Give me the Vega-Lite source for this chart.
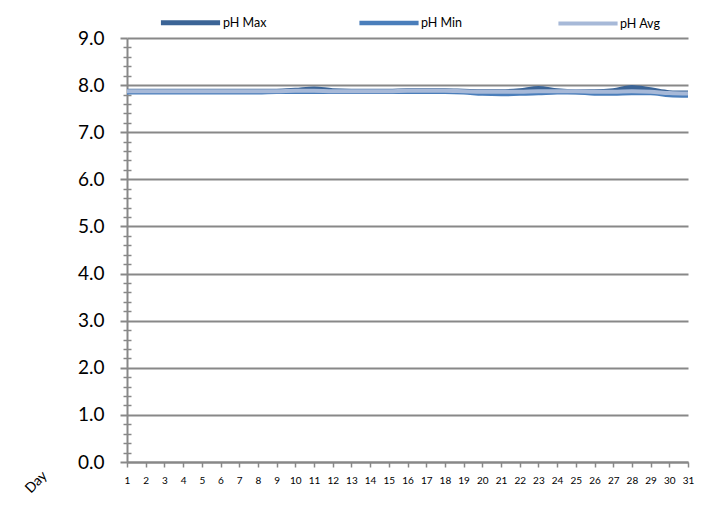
{
  "$schema": "https://vega.github.io/schema/vega-lite/v6.json",
  "width": 561,
  "height": 424,
  "autosize": {"type": "none"},
  "padding": {"left": 127, "top": 38, "right": 34, "bottom": 46},
  "background": "white",
  "config": {"font": "Lato", "view": {"stroke": null}},
  "data": {"values": [
    {"day": 1, "pH Max": 7.87, "pH Min": 7.85, "pH Avg": 7.87},
    {"day": 2, "pH Max": 7.87, "pH Min": 7.85, "pH Avg": 7.87},
    {"day": 3, "pH Max": 7.87, "pH Min": 7.85, "pH Avg": 7.87},
    {"day": 4, "pH Max": 7.87, "pH Min": 7.85, "pH Avg": 7.87},
    {"day": 5, "pH Max": 7.87, "pH Min": 7.85, "pH Avg": 7.87},
    {"day": 6, "pH Max": 7.87, "pH Min": 7.85, "pH Avg": 7.87},
    {"day": 7, "pH Max": 7.87, "pH Min": 7.85, "pH Avg": 7.87},
    {"day": 8, "pH Max": 7.87, "pH Min": 7.85, "pH Avg": 7.87},
    {"day": 9, "pH Max": 7.87, "pH Min": 7.86, "pH Avg": 7.87},
    {"day": 10, "pH Max": 7.89, "pH Min": 7.86, "pH Avg": 7.88},
    {"day": 11, "pH Max": 7.92, "pH Min": 7.86, "pH Avg": 7.88},
    {"day": 12, "pH Max": 7.88, "pH Min": 7.86, "pH Avg": 7.87},
    {"day": 13, "pH Max": 7.87, "pH Min": 7.86, "pH Avg": 7.87},
    {"day": 14, "pH Max": 7.87, "pH Min": 7.86, "pH Avg": 7.87},
    {"day": 15, "pH Max": 7.87, "pH Min": 7.86, "pH Avg": 7.87},
    {"day": 16, "pH Max": 7.88, "pH Min": 7.86, "pH Avg": 7.88},
    {"day": 17, "pH Max": 7.88, "pH Min": 7.86, "pH Avg": 7.88},
    {"day": 18, "pH Max": 7.88, "pH Min": 7.86, "pH Avg": 7.88},
    {"day": 19, "pH Max": 7.87, "pH Min": 7.85, "pH Avg": 7.87},
    {"day": 20, "pH Max": 7.86, "pH Min": 7.82, "pH Avg": 7.86},
    {"day": 21, "pH Max": 7.86, "pH Min": 7.81, "pH Avg": 7.86},
    {"day": 22, "pH Max": 7.88, "pH Min": 7.82, "pH Avg": 7.86},
    {"day": 23, "pH Max": 7.93, "pH Min": 7.83, "pH Avg": 7.87},
    {"day": 24, "pH Max": 7.88, "pH Min": 7.85, "pH Avg": 7.87},
    {"day": 25, "pH Max": 7.86, "pH Min": 7.85, "pH Avg": 7.87},
    {"day": 26, "pH Max": 7.86, "pH Min": 7.82, "pH Avg": 7.86},
    {"day": 27, "pH Max": 7.88, "pH Min": 7.82, "pH Avg": 7.86},
    {"day": 28, "pH Max": 7.95, "pH Min": 7.83, "pH Avg": 7.87},
    {"day": 29, "pH Max": 7.9, "pH Min": 7.83, "pH Avg": 7.86},
    {"day": 30, "pH Max": 7.84, "pH Min": 7.79, "pH Avg": 7.83},
    {"day": 31, "pH Max": 7.83, "pH Min": 7.78, "pH Avg": 7.82}
  ]},
  "transform": [
    {"fold": ["pH Max", "pH Min", "pH Avg"], "as": ["series", "value"]}
  ],
  "layer": [
    {
      "mark": {"type": "line", "interpolate": "monotone"},
      "encoding": {
        "x": {
          "field": "day", "type": "quantitative",
          "scale": {"domain": [1, 31], "nice": false, "zero": false},
          "axis": {
            "title": "Day", "titleAngle": -45, "titleX": -96, "titleY": 15,
            "titleFontSize": 14, "titleFontWeight": "normal", "titleColor": "#000",
            "titleFont": "Lato",
            "values": [1,2,3,4,5,6,7,8,9,10,11,12,13,14,15,16,17,18,19,20,21,22,23,24,25,26,27,28,29,30,31],
            "format": "d", "labelFontSize": 10, "labelColor": "#000", "labelPadding": 8,
            "labelFlush": false, "labelOverlap": false,
            "grid": false, "domainColor": "#888", "domainWidth": 2,
            "tickColor": "#888", "tickWidth": 1.5, "tickSize": 5
          }
        },
        "y": {
          "field": "value", "type": "quantitative",
          "scale": {"domain": [0, 9], "nice": false},
          "axis": {
            "title": null, "values": [0,1,2,3,4,5,6,7,8,9], "format": ".1f",
            "labelFontSize": 19, "labelColor": "#000", "labelPadding": 16,
            "grid": true, "gridColor": "#888", "gridWidth": 2,
            "domainColor": "#888", "domainWidth": 2,
            "tickColor": "#888", "tickWidth": 2, "tickSize": 7
          }
        },
        "color": {
          "field": "series", "type": "nominal",
          "scale": {"domain": ["pH Max", "pH Min", "pH Avg"], "range": ["#3b6496", "#4a7ebb", "#a7b9d8"]},
          "legend": {
            "title": null, "orient": "none", "direction": "horizontal",
            "legendX": 31, "legendY": -48,
            "symbolType": "stroke", "symbolSize": 3500, "symbolStrokeWidth": 5,
            "labelFontSize": 12.5, "labelColor": "#000", "labelOffset": 0,
            "columnPadding": 83, "gridAlign": "all"
          }
        },
        "strokeWidth": {
          "field": "series", "type": "nominal",
          "scale": {"domain": ["pH Max", "pH Min", "pH Avg"], "range": [5, 4, 7]},
          "legend": null
        },
        "order": {"field": "series", "sort": "descending"}
      }
    },
    {
      "mark": {"type": "rule", "opacity": 0},
      "encoding": {
        "y": {
          "field": "value", "type": "quantitative",
          "scale": {"domain": [0, 9], "nice": false},
          "axis": {
            "orient": "left", "title": null, "labels": false, "grid": false, "domain": false,
            "values": [0.2,0.4,0.6,0.8,1.2,1.4,1.6,1.8,2.2,2.4,2.6,2.8,3.2,3.4,3.6,3.8,4.2,4.4,4.6,4.8,5.2,5.4,5.6,5.8,6.2,6.4,6.6,6.8,7.2,7.4,7.6,7.8,8.2,8.4,8.6,8.8],
            "offset": -4, "tickSize": 8, "tickColor": "#888", "tickWidth": 1.5
          }
        }
      }
    }
  ],
  "resolve": {"axis": {"y": "independent"}}
}
